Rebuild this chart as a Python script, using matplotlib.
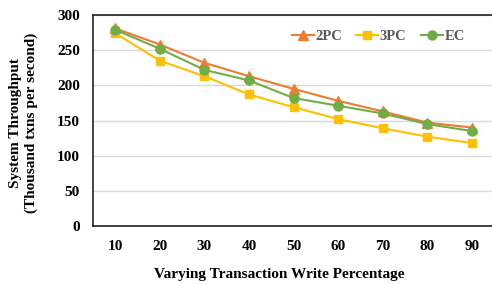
import matplotlib
matplotlib.use("Agg")
import matplotlib.pyplot as plt

x_labels = [10, 20, 30, 40, 50, 60, 70, 80, 90]
tpc2 = [281, 258, 232, 213, 195, 178, 163, 147, 140]
tpc3 = [274, 235, 213, 187, 169, 152, 139, 127, 118]
ec = [279, 252, 222, 207, 182, 171, 160, 145, 135]

plt.rcParams['font.family'] = ['Liberation Serif', 'DejaVu Serif']
plt.rcParams['font.weight'] = 'bold'

fig = plt.figure(figsize=(4.92, 2.84), dpi=100)
ax = fig.add_axes([93/492, 1 - 226/284, (494 - 93)/492, (226 - 15)/284])

ax.plot(x_labels, tpc2, color='#ED7D31', marker='^', markersize=7, lw=1.5, label='2PC', zorder=3)
ax.plot(x_labels, tpc3, color='#FFC000', marker='s', markersize=6.3, lw=1.5, label='3PC', zorder=3)
ax.plot(x_labels, ec, color='#70AD47', marker='o', markersize=6.5, lw=1.5, label='EC', zorder=4)

ax.set_xlim(5, 95)
ax.set_ylim(0, 300)
ax.set_yticks(range(0, 301, 50))
ax.set_xticks(x_labels)
ax.grid(axis='y', color='#d9d9d9', lw=1)
ax.set_axisbelow(True)
ax.tick_params(axis='x', length=0, labelsize=11, pad=10)
ax.tick_params(axis='y', length=0, labelsize=11, pad=9.5)
for lab in ax.get_xticklabels() + ax.get_yticklabels():
    lab.set_fontweight('bold')
for s in ['left', 'bottom', 'top', 'right']:
    ax.spines[s].set_color('#222222')
    ax.spines[s].set_linewidth(1.2)

ax.set_xlabel('Varying Transaction Write Percentage', fontsize=11, fontweight='bold')
ax.xaxis.set_label_coords((279 - 93) / 401, -(268 - 226) / 211)
ax.set_ylabel('System Throughput\n(Thousand txns per second)', fontsize=11, fontweight='bold')
ax.yaxis.set_label_coords(-(93 - 38) / 401, 0.49)

leg = ax.legend(loc='upper right', ncol=3, frameon=False, handlelength=1.5,
                handletextpad=0.1, columnspacing=1.0, bbox_to_anchor=(0.96, 0.99),
                prop={'weight': 'bold', 'size': 10.5})
for t in leg.get_texts():
    t.set_color('#595959')

fig.savefig('out.png', dpi=100)
